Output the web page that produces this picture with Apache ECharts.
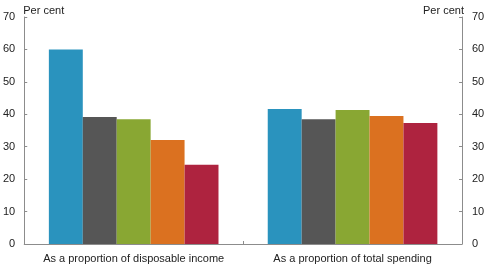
<!DOCTYPE html>
<html>
<head>
<meta charset="utf-8">
<script src="https://cdn.jsdelivr.net/npm/echarts@6/dist/echarts.min.js"></script>
<style>
html,body{margin:0;padding:0;background:#fff;}
#chart{width:492px;height:265px;}
</style>
</head>
<body>
<div id="chart"></div>
<script>
var categories = ['As a proportion of disposable income', 'As a proportion of total spending'];
var seriesNames = ['Series 1', 'Series 2', 'Series 3', 'Series 4', 'Series 5'];
var series1 = [60.0, 41.6];
var series2 = [39.2, 38.5];
var series3 = [38.5, 41.3];
var series4 = [32.1, 39.5];
var series5 = [24.4, 37.3];
var colors = ['#2a93be', '#565656', '#89a733', '#db7120', '#ae233f'];
var yTicks = [0, 10, 20, 30, 40, 50, 60, 70];

var allData = [series1, series2, series3, series4, series5];
var chart = echarts.init(document.getElementById('chart'), null, {renderer: 'canvas'});
var axisColor = '#8c8c8c';
var textColor = '#222';
var fontFamily = 'Liberation Sans, Arial, sans-serif';

function yAxis(pos) {
  return {
    type: 'value',
    position: pos,
    min: yTicks[0],
    max: yTicks[yTicks.length - 1],
    interval: yTicks[1] - yTicks[0],
    name: 'Per cent',
    nameLocation: 'end',
    nameGap: 6,
    nameTextStyle: {
      color: textColor, fontSize: 11, fontFamily: fontFamily,
      align: pos === 'left' ? 'left' : 'right',
      verticalAlign: 'middle',
      padding: pos === 'left' ? [0, 0, 0, -1] : [0, -2, 0, 0]
    },
    axisLine: {show: true, lineStyle: {color: axisColor, width: 1}},
    axisTick: {show: true, inside: true, length: 3, lineStyle: {color: axisColor}},
    axisLabel: {color: textColor, fontSize: 11, fontFamily: fontFamily, margin: pos === 'left' ? 9 : 10},
    splitLine: {show: false}
  };
}

chart.setOption({
  animation: false,
  color: colors,
  grid: {left: 24, right: 30, top: 17, bottom: 21, containLabel: false},
  xAxis: {
    type: 'category',
    data: categories,
    axisLine: {show: true, lineStyle: {color: axisColor, width: 1}},
    axisTick: {show: true, inside: true, length: 3, alignWithLabel: false, lineStyle: {color: axisColor}},
    axisLabel: {color: textColor, fontSize: 11, fontFamily: fontFamily, margin: 9, interval: 0}
  },
  yAxis: [yAxis('left'), yAxis('right')],
  series: allData.map(function (d, i) {
    return {
      name: seriesNames[i],
      type: 'bar',
      yAxisIndex: 0,
      data: d,
      barGap: '0%',
      barCategoryGap: '22.5%',
      itemStyle: {color: colors[i]}
    };
  })
});
</script>
</body>
</html>
